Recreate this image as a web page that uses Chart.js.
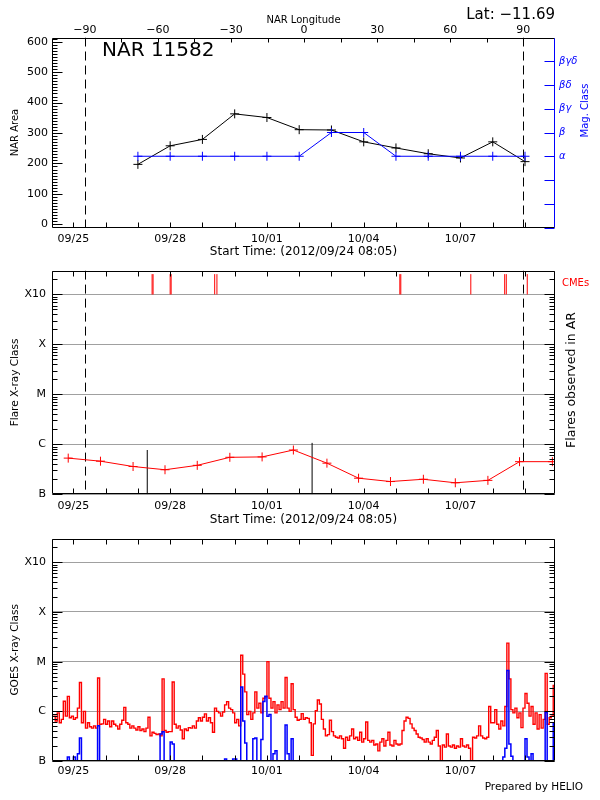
<!DOCTYPE html>
<html>
<head>
<meta charset="utf-8">
<title>NAR 11582</title>
<script src="https://cdn.jsdelivr.net/npm/chart.js@4.4.1/dist/chart.umd.min.js"></script>
<style>
  html, body { margin: 0; padding: 0; background: #ffffff; }
  body { position: relative; width: 600px; height: 800px; overflow: hidden; }
  canvas { position: absolute; left: 0; }
</style>
</head>
<body>
<canvas id="narChart" width="600" height="262" style="top:0px"></canvas>
<canvas id="flareChart" width="600" height="272" style="top:258px"></canvas>
<canvas id="goesChart" width="600" height="274" style="top:526px"></canvas>
<script>
// ---- data (time = days since 2012/09/24 00:00 UT) ----
const dayTicks = [1, 2, 3, 4, 5, 6, 7, 8, 9, 10, 11, 12, 13, 14, 15];
const dayTickLabels = ['09/25', '', '', '09/28', '', '', '10/01', '', '', '10/04', '', '', '10/07', '', ''];

const lonTicks = [-90, -75, -60, -45, -30, -15, 0, 15, 30, 45, 60, 75, 90];
const lonTickLabels = ['−90', '', '−60', '', '−30', '', '0', '', '30', '', '60', '', '90'];
const limbLon = [-90, 90];

const areaTicks = [0, 100, 200, 300, 400, 500, 600];
const magTicks = [-2, -1, 0, 1, 2, 3, 4, 5, 6];
const magTickLabels = ['', '', '', 'α', 'β', 'βγ', 'βδ', 'βγδ', ''];

// NOAA 11582, one value per day
const narDays = [3, 4, 5, 6, 7, 8, 9, 10, 11, 12, 13, 14, 15];
const narArea = [197, 258, 279, 363, 351, 311, 310, 271, 251, 232, 218, 271, 206];
const narMag = [1, 1, 1, 1, 1, 1, 2, 2, 1, 1, 1, 1, 1];

// X-ray class axis, flux in units of 1e-7 W/m^2 (B1 = 1)
const classTicks = [1, 10, 100, 1000, 10000];
const classTickLabels = ['B', 'C', 'M', 'X', 'X10'];

const bgDays = [0.84, 1.84, 2.85, 3.84, 4.84, 5.85, 6.85, 7.82, 8.86, 9.84, 10.83, 11.85, 12.84, 13.85, 14.83, 15.85];
const bgLevel = [5.3, 4.6, 3.6, 3.1, 3.8, 5.5, 5.6, 7.7, 4.2, 2.1, 1.8, 2.0, 1.7, 1.9, 4.5, 4.5];

const arFlareDays = [3.29, 8.40];
const arFlarePeak = [7.7, 10.7];

const cmeDays = [3.44, 3.47, 4.00, 4.03, 5.38, 5.45, 11.12, 11.15, 13.32, 14.37, 14.42, 15.07];

// GOES 1-8 A (red) and 0.5-4 A (blue), 1.5 h samples
const goesStart = 0.375;
const goesStep = 1 / 16;
const goesLong = [
  8, 6.4, 9.3, 5.9, 6.9, 16, 8, 20, 7.4, 8,
  6.9, 7.4, 11.6, 38, 5.9, 10, 4.6, 5.9, 4.9, 4.6,
  5.1, 4.6, 47, 5.5, 5.6, 6.9, 5.5, 6.4, 4.9, 6.4,
  5.5, 5.1, 4.4, 5.5, 6.6, 12, 5.9, 5.5, 4.6, 5.1,
  4.6, 4.2, 4.9, 4.1, 4.4, 3.9, 4.6, 7.6, 3.2, 3.8,
  3.6, 3.4, 3.5, 3.2, 45, 4.1, 3.8, 3.9, 3.9, 39,
  5.5, 4.6, 5.1, 4.2, 2.8, 4.4, 4.1, 4.7, 4.6, 5.1,
  4.6, 6.4, 7.4, 6.4, 7.6, 8.9, 6.4, 7.4, 5.9, 3.8,
  11.6, 10, 9.3, 8, 9.7, 13.5, 15.7, 11.6, 10.8, 9.3,
  5.9, 6.9, 5.1, 135, 56, 24.6, 8.6, 10, 6.9, 9.3,
  24.6, 11.6, 14.5, 9.3, 18.3, 19.7, 100, 18.3, 11.6, 15.7,
  9.3, 13.5, 10.8, 15.7, 11.6, 48, 11.6, 10, 36, 10.8,
  7.6, 6.6, 6.9, 9, 6.9, 7.4, 7.2, 5.9, 1.3, 5.6,
  10.3, 16.9, 14, 6.9, 4.4, 3.2, 3.4, 6.6, 3.9, 3.2,
  3.0, 2.9, 3.2, 2.8, 1.8, 3.0, 2.6, 3.2, 4.4, 2.8,
  3.0, 2.6, 3.8, 2.4, 2.8, 6.1, 2.6, 2.4, 2.6, 2.1,
  2.2, 1.6, 2.4, 2.8, 2.0, 2.6, 3.8, 2.1, 2.0, 2.6,
  2.2, 2.1, 2.2, 4.1, 6.4, 7.6, 7.2, 5.6, 4.6, 4.1,
  3.5, 3.0, 2.9, 2.7, 2.4, 2.8, 2.4, 2.2, 2.6, 3.0,
  4.1, 2.0, 0.9, 2.1, 1.9, 3.5, 2.0, 1.9, 2.1, 1.8,
  2.0, 1.9, 2.8, 2.0, 1.9, 2.1, 1.8, 0.9, 3.0, 2.9,
  3.2, 5.1, 3.2, 2.9, 2.8, 3.0, 12.5, 5.9, 5.9, 10.8,
  5.5, 4.4, 6.4, 5.1, 12.5, 236, 45, 10.8, 9.3, 11.6,
  7.4, 9.3, 4.7, 11.6, 22.8, 14.5, 8, 12.5, 5.5, 9.3,
  4.4, 8.6, 4.6, 6.9, 58, 5.5, 7.4, 8, 33, 28
];
const goesShort = [
  0.3, 0.3, 0.3, 0.3, 0.3, 0.3, 0.3, 1.2, 0.3, 0.3,
  1.2, 0.3, 1.4, 2.9, 0.3, 0.3, 0.3, 0.3, 0.3, 0.3,
  0.3, 0.3, 5.1, 0.3, 0.3, 0.3, 0.3, 0.3, 0.3, 0.3,
  0.3, 0.3, 0.3, 0.3, 0.3, 0.3, 0.3, 0.3, 0.3, 0.3,
  0.3, 0.3, 0.3, 0.3, 0.3, 0.3, 0.3, 0.3, 0.3, 0.3,
  0.3, 0.3, 0.3, 3.5, 3.9, 0.3, 0.3, 0.3, 2.4, 2.2,
  0.3, 0.3, 0.3, 0.3, 0.3, 0.3, 0.3, 0.3, 0.3, 0.3,
  0.3, 0.3, 0.3, 0.3, 0.3, 0.3, 0.3, 0.3, 0.3, 0.3,
  0.3, 0.3, 0.3, 0.3, 0.3, 1.1, 0.3, 0.3, 0.3, 1.1,
  1.1, 0.3, 0.3, 31, 6.4, 2.3, 0.3, 0.3, 0.3, 2.8,
  2.9, 0.3, 0.3, 2.7, 15.7, 20, 8, 8.6, 0.3, 1.4,
  1.6, 0.3, 0.3, 0.3, 0.3, 5.3, 1.4, 0.3, 2.8, 0.3,
  0.3, 0.3, 0.3, 0.3, 0.3, 0.3, 0.3, 0.3, 0.3, 0.3,
  0.3, 0.3, 0.3, 0.3, 0.3, 0.3, 0.3, 0.3, 0.3, 0.3,
  0.3, 0.3, 0.3, 0.3, 0.3, 0.3, 0.3, 0.3, 0.3, 0.3,
  0.3, 0.3, 0.3, 0.3, 0.3, 0.3, 0.3, 0.3, 0.3, 0.3,
  0.3, 0.3, 0.3, 0.3, 0.3, 0.3, 0.3, 0.3, 0.3, 0.3,
  0.3, 0.3, 0.3, 0.3, 0.3, 0.3, 0.3, 0.3, 0.3, 0.3,
  0.3, 0.3, 0.3, 0.3, 0.3, 0.3, 0.3, 0.3, 0.3, 0.3,
  0.3, 0.3, 0.3, 0.3, 0.3, 0.3, 0.3, 0.3, 0.3, 0.3,
  0.3, 0.3, 0.3, 0.3, 0.3, 0.3, 0.3, 0.3, 0.3, 0.3,
  0.3, 0.3, 0.3, 0.3, 0.3, 0.3, 0.3, 0.3, 0.3, 0.3,
  0.3, 0.3, 0.3, 1.2, 1.8, 66, 2.2, 1.25, 0.3, 0.3,
  0.3, 0.3, 0.3, 0.3, 2.8, 1.2, 0.3, 1.4, 0.3, 0.3,
  0.3, 0.3, 0.3, 0.3, 9.5, 0.3, 0.3, 0.3, 5.6, 5.6
];

// ---- axis ranges ----
const tStart = 0.337;   // 2012/09/24 08:05
const tEnd = 15.93;
const lonMin = -103.5, lonMax = 103.0;
const classMax = 30000;
const cmeBase = 10000, cmeTop = 25500;

const areaMinorTicks = [];
for (let v = 0; v <= 610; v += 10) areaMinorTicks.push(v);
const classMinorTicks = [];
classTicks.forEach(d => { for (let k = 2; k <= 9; k++) classMinorTicks.push(d * k); });

const FONT = "'DejaVu Sans', sans-serif";
Chart.defaults.font.family = FONT;
Chart.defaults.color = '#000';

// vertical segments: one per event, broken by nulls
function stalks(days, lo, hi) {
  const pts = [];
  days.forEach((d, i) => {
    pts.push({ x: d, y: Array.isArray(lo) ? lo[i] : lo });
    pts.push({ x: d, y: Array.isArray(hi) ? hi[i] : hi });
    pts.push({ x: d, y: null });
  });
  return pts;
}

// IDL-style look: inward ticks, box frame, dashed limb lines, free text
function idlDecor(cfg) {
  return {
    id: 'idlDecor',
    beforeDatasetsDraw(chart) {
      const { ctx, chartArea: a } = chart;
      ctx.save();
      ctx.beginPath();
      ctx.rect(a.left, a.top, a.right - a.left, a.bottom - a.top);
      ctx.clip();
      (cfg.vlines || []).forEach(v => {
        const s = chart.scales[v.scale];
        ctx.strokeStyle = v.color;
        ctx.lineWidth = 1;
        ctx.setLineDash(v.dash);
        ctx.beginPath();
        v.values.forEach(val => {
          const x = Math.round(s.getPixelForValue(val)) + 0.5;
          ctx.moveTo(x, a.top);
          ctx.lineTo(x, a.bottom);
        });
        ctx.stroke();
      });
      ctx.restore();
    },
    afterDatasetsDraw(chart) {
      const { ctx, chartArea: a } = chart;
      const L = Math.round(a.left) + 0.5, R = Math.round(a.right) - 0.5;
      const T = Math.round(a.top) + 0.5, B = Math.round(a.bottom) - 0.5;
      ctx.save();
      ctx.lineWidth = 1;
      ctx.setLineDash([]);
      (cfg.ticks || []).forEach(t => {
        const s = chart.scales[t.scale];
        ctx.strokeStyle = t.color || '#000';
        ctx.beginPath();
        t.values.forEach(val => {
          const p = s.getPixelForValue(val);
          if (s.isHorizontal()) {
            if (p < a.left || p > a.right) return;
            const x = Math.round(p) + 0.5;
            if (t.edge === 'top') { ctx.moveTo(x, T); ctx.lineTo(x, T + t.len); }
            else { ctx.moveTo(x, B); ctx.lineTo(x, B - t.len); }
          } else {
            if (p < a.top - 0.5 || p > a.bottom + 0.5) return;
            const y = Math.round(p) + 0.5;
            if (t.edge === 'right') { ctx.moveTo(R, y); ctx.lineTo(R - t.len, y); }
            else { ctx.moveTo(L, y); ctx.lineTo(L + t.len, y); }
          }
        });
        ctx.stroke();
      });
      const sides = [
        ['top', L, T, R, T], ['right', R, T, R, B],
        ['bottom', R, B, L, B], ['left', L, B, L, T]
      ];
      sides.forEach(([side, x1, y1, x2, y2]) => {
        ctx.strokeStyle = (cfg.frame && cfg.frame[side]) || '#000';
        ctx.beginPath();
        ctx.moveTo(x1, y1);
        ctx.lineTo(x2, y2);
        ctx.stroke();
      });
      ctx.restore();
    },
    afterDraw(chart) {
      const ctx = chart.ctx;
      (cfg.texts || []).forEach(t => {
        ctx.save();
        ctx.font = t.font;
        ctx.fillStyle = t.color || '#000';
        ctx.textAlign = t.align || 'center';
        ctx.textBaseline = 'middle';
        ctx.translate(t.x, t.y);
        if (t.rotate) ctx.rotate(-Math.PI / 2);
        ctx.fillText(t.text, 0, 0);
        ctx.restore();
      });
    }
  };
}

function dayAxis(fitHeight, pad, title) {
  return {
    type: 'linear', axis: 'x', position: 'bottom', min: tStart, max: tEnd,
    afterBuildTicks: s => { s.ticks = dayTicks.map(v => ({ value: v })); },
    afterFit: s => { s.height = fitHeight; },
    grid: { display: false, drawTicks: false },
    border: { display: false },
    ticks: {
      autoSkip: false, maxRotation: 0, padding: pad, color: '#000',
      font: { size: 11 }, callback: (v, i) => dayTickLabels[i]
    },
    title: title
      ? { display: true, text: title, color: '#000', font: { size: 12 }, padding: { top: 0, bottom: 2.8 } }
      : { display: false }
  };
}

function classAxis(title) {
  return {
    type: 'logarithmic', position: 'left', min: classTicks[0], max: classMax,
    afterBuildTicks: s => { s.ticks = classTicks.map(v => ({ value: v })); },
    afterFit: s => { s.width = 52; },
    grid: { display: true, drawTicks: false, color: '#a0a0a0', lineWidth: 1 },
    border: { display: false },
    ticks: { padding: 6, color: '#000', font: { size: 11 }, callback: (v, i) => classTickLabels[i] },
    title: { display: true, text: title, color: '#000', font: { size: 10.5 }, padding: { top: 9, bottom: 0 } }
  };
}

const classTickSets = [
  { scale: 'y', edge: 'left', values: classTicks, len: 10 },
  { scale: 'y', edge: 'left', values: classMinorTicks, len: 5 },
  { scale: 'y', edge: 'right', values: classTicks, len: 10 },
  { scale: 'y', edge: 'right', values: classMinorTicks, len: 5 },
  { scale: 'x', edge: 'bottom', values: dayTicks, len: 5 },
  { scale: 'x', edge: 'top', values: dayTicks, len: 5 }
];

const quiet = { legend: { display: false }, tooltip: { enabled: false } };
const startTitle = 'Start Time: (2012/09/24 08:05)';

// ---- panel 1: NAR area and magnetic class ----
new Chart(document.getElementById('narChart'), {
  type: 'line',
  data: {
    datasets: [
      {
        data: narDays.map((d, i) => ({ x: d, y: narMag[i] })),
        xAxisID: 'x', yAxisID: 'yMag',
        borderColor: '#0000ff', borderWidth: 1,
        pointStyle: 'cross', pointRadius: 4.5, pointBorderColor: '#0000ff', pointBorderWidth: 1
      },
      {
        data: narDays.map((d, i) => ({ x: d, y: narArea[i] })),
        xAxisID: 'x', yAxisID: 'y',
        borderColor: '#000000', borderWidth: 1,
        pointStyle: 'cross', pointRadius: 4.5, pointBorderColor: '#000000', pointBorderWidth: 1
      }
    ]
  },
  options: {
    responsive: false, animation: false, events: [],
    layout: { autoPadding: false },
    plugins: quiet,
    scales: {
      x: dayAxis(34.5, 5.2, startTitle),
      xLon: {
        type: 'linear', axis: 'x', position: 'top', min: lonMin, max: lonMax,
        afterBuildTicks: s => { s.ticks = lonTicks.map(v => ({ value: v })); },
        afterFit: s => { s.height = 37.5; },
        grid: { display: false, drawTicks: false },
        border: { display: false },
        ticks: { autoSkip: false, maxRotation: 0, padding: 1, color: '#000', font: { size: 11 },
          callback: (v, i) => lonTickLabels[i] },
        title: { display: true, text: 'NAR Longitude', color: '#000', font: { size: 10 }, padding: { top: 14, bottom: 0 } }
      },
      y: {
        type: 'linear', position: 'left', min: -10.5, max: 614,
        afterBuildTicks: s => { s.ticks = areaTicks.map(v => ({ value: v })); },
        afterFit: s => { s.width = 52; },
        grid: { display: false, drawTicks: false },
        border: { display: false },
        ticks: { padding: 4, color: '#000', font: { size: 11 } },
        title: { display: true, text: 'NAR Area', color: '#000', font: { size: 10 }, padding: { top: 9, bottom: 0 } }
      },
      yMag: {
        type: 'linear', position: 'right', min: -2, max: 6,
        afterBuildTicks: s => { s.ticks = magTicks.map(v => ({ value: v })); },
        afterFit: s => { s.width = 45; },
        grid: { display: false, drawTicks: false },
        border: { display: false },
        ticks: { padding: 4, color: '#0000ff', font: { size: 10, style: 'italic' },
          callback: (v, i) => magTickLabels[i] }
      }
    }
  },
  plugins: [idlDecor({
    frame: { right: '#0000ff' },
    vlines: [{ scale: 'xLon', values: limbLon, dash: [9, 5], color: '#000' }],
    ticks: [
      { scale: 'y', edge: 'left', values: areaTicks, len: 10 },
      { scale: 'y', edge: 'left', values: areaMinorTicks, len: 5 },
      { scale: 'yMag', edge: 'right', values: magTicks, len: 10, color: '#0000ff' },
      { scale: 'x', edge: 'bottom', values: dayTicks, len: 5 },
      { scale: 'xLon', edge: 'top', values: lonTicks, len: 4 }
    ],
    texts: [
      { text: 'Lat: −11.69', x: 555, y: 15.5, font: '15px ' + FONT, align: 'right' },
      { text: 'NAR 11582', x: 102, y: 51, font: '20px ' + FONT, align: 'left' },
      { text: 'Mag. Class', x: 585.7, y: 110.5, font: '10px ' + FONT, color: '#0000ff', rotate: true }
    ]
  })]
});

// ---- panel 2: flares and CMEs attributed to the region ----
new Chart(document.getElementById('flareChart'), {
  type: 'line',
  data: {
    datasets: [
      {
        data: bgDays.map((d, i) => ({ x: d, y: bgLevel[i] })),
        xAxisID: 'x', yAxisID: 'y',
        borderColor: '#ff0000', borderWidth: 1,
        pointStyle: 'cross', pointRadius: 4.5, pointBorderColor: '#ff0000', pointBorderWidth: 1
      },
      {
        data: stalks(arFlareDays, classTicks[0], arFlarePeak),
        xAxisID: 'x', yAxisID: 'y',
        borderColor: '#000000', borderWidth: 1, pointRadius: 0
      },
      {
        data: stalks(cmeDays, cmeBase, cmeTop),
        xAxisID: 'x', yAxisID: 'y',
        borderColor: '#ff0000', borderWidth: 1, pointRadius: 0
      }
    ]
  },
  options: {
    responsive: false, animation: false, events: [],
    layout: { autoPadding: false, padding: { top: 7.7, right: 45 } },
    plugins: quiet,
    scales: {
      x: dayAxis(35.7, 5.2, startTitle),
      xLon: { type: 'linear', axis: 'x', position: 'top', display: false, min: lonMin, max: lonMax },
      y: classAxis('Flare X-ray Class')
    }
  },
  plugins: [idlDecor({
    vlines: [{ scale: 'xLon', values: limbLon, dash: [9, 5], color: '#000' }],
    ticks: classTickSets,
    texts: [
      { text: 'CMEs', x: 562, y: 25, font: '10px ' + FONT, color: '#ff0000', align: 'left' },
      { text: 'Flares observed in AR', x: 572, y: 122, font: '12.5px ' + FONT, rotate: true }
    ]
  })]
});

// ---- panel 3: GOES X-ray flux ----
new Chart(document.getElementById('goesChart'), {
  type: 'line',
  data: {
    datasets: [
      {
        data: goesShort.map((v, i) => ({ x: goesStart + i * goesStep, y: v })),
        xAxisID: 'x', yAxisID: 'y', stepped: true,
        borderColor: '#0000ff', borderWidth: 1.5, pointRadius: 0
      },
      {
        data: goesLong.map((v, i) => ({ x: goesStart + i * goesStep, y: v })),
        xAxisID: 'x', yAxisID: 'y', stepped: true,
        borderColor: '#ff0000', borderWidth: 1.4, pointRadius: 0
      }
    ]
  },
  options: {
    responsive: false, animation: false, events: [],
    layout: { autoPadding: false, padding: { top: 6.7, right: 45 } },
    plugins: quiet,
    scales: {
      x: dayAxis(39, 3.4, null),
      y: classAxis('GOES X-ray Class')
    }
  },
  plugins: [idlDecor({
    ticks: classTickSets,
    texts: [
      { text: 'Prepared by HELIO', x: 583, y: 261, font: '10.5px ' + FONT, align: 'right' }
    ]
  })]
});
</script>
</body>
</html>
